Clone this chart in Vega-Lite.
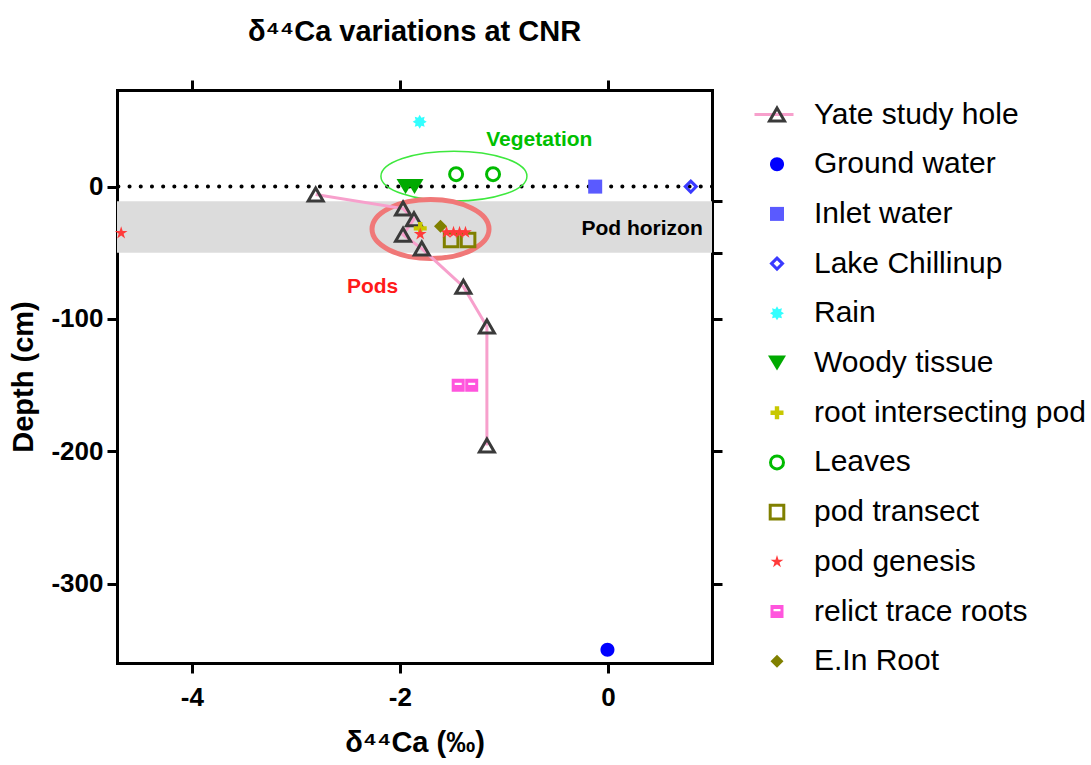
{
  "$schema": "https://vega.github.io/schema/vega-lite/v6.json",
  "width": 595,
  "height": 573,
  "autosize": "none",
  "padding": {"left": 117, "top": 90, "right": 379, "bottom": 102},
  "background": "white",
  "config": {
    "view": {"stroke": null},
    "font": "Liberation Sans",
    "axis": {
      "domainColor": "black", "domainWidth": 3, "domainCap": "square",
      "tickColor": "black", "tickWidth": 3, "tickSize": 10, "grid": false,
      "labelColor": "black", "labelFont": "Liberation Sans", "labelFontSize": 26, "labelFontWeight": "bold",
      "titleColor": "black", "titleFont": "Liberation Sans", "titleFontSize": 29, "titleFontWeight": "bold",
      "zindex": 1
    }
  },
  "title": {"text": "δ⁴⁴Ca variations at CNR", "fontSize": 29, "fontWeight": "bold", "font": "Liberation Sans", "color": "black", "anchor": "middle", "offset": 32},
  "datasets": {
    "samples": [
      {"series": "Yate study hole", "d44": -2.81, "depth": -6},
      {"series": "Yate study hole", "d44": -1.97, "depth": -16.6},
      {"series": "Yate study hole", "d44": -1.865, "depth": -24.7},
      {"series": "Yate study hole", "d44": -1.97, "depth": -36.3},
      {"series": "Yate study hole", "d44": -1.79, "depth": -46.8},
      {"series": "Yate study hole", "d44": -1.39, "depth": -75.6},
      {"series": "Yate study hole", "d44": -1.164, "depth": -105.8},
      {"series": "Yate study hole", "d44": -1.164, "depth": -195.7},
      {"series": "Ground water", "d44": -0.005, "depth": -350},
      {"series": "Inlet water", "d44": -0.123, "depth": 0},
      {"series": "Lake Chillinup", "d44": 0.796, "depth": 0},
      {"series": "Rain", "d44": -1.81, "depth": 49},
      {"series": "Woody tissue", "d44": -1.946, "depth": 0},
      {"series": "Woody tissue", "d44": -1.86, "depth": 0},
      {"series": "root intersecting pod", "d44": -1.805, "depth": -31.6},
      {"series": "Leaves", "d44": -1.46, "depth": 9.4},
      {"series": "Leaves", "d44": -1.105, "depth": 9.4},
      {"series": "pod transect", "d44": -1.508, "depth": -40.4},
      {"series": "pod transect", "d44": -1.345, "depth": -40.4},
      {"series": "pod genesis", "d44": -4.68, "depth": -35.1},
      {"series": "pod genesis", "d44": -1.805, "depth": -35.9},
      {"series": "pod genesis", "d44": -1.552, "depth": -34.6},
      {"series": "pod genesis", "d44": -1.485, "depth": -34.6},
      {"series": "pod genesis", "d44": -1.427, "depth": -34.6},
      {"series": "pod genesis", "d44": -1.37, "depth": -34.6},
      {"series": "relict trace roots", "d44": -1.44, "depth": -150.2},
      {"series": "relict trace roots", "d44": -1.31, "depth": -150.2},
      {"series": "E.In Root", "d44": -1.61, "depth": -30}
    ],
    "horizon": [{"top": -11, "bottom": -50}],
    "surface": [{"depth": 0}]
  },
  "layer": [
    {
      "data": {"name": "horizon"},
      "mark": {"type": "rect", "color": "#dcdcdc"},
      "encoding": {
        "y": {"field": "top", "type": "quantitative", "scale": {"domain": [-360, 73], "nice": false, "zero": false}, "axis": null},
        "y2": {"field": "bottom"}
      }
    },
    {
      "data": {"name": "surface"},
      "mark": {"type": "rule", "color": "black", "strokeWidth": 4, "strokeDash": [0.1, 11.1], "strokeCap": "round"},
      "encoding": {
        "y": {"field": "depth", "type": "quantitative", "axis": null}
      }
    },
    {
      "data": {"values": [{"d44": -1.481, "depth": 7.9}]},
      "mark": {"type": "point", "filled": false, "opacity": 1, "stroke": "#3ee83e", "strokeWidth": 1.5, "size": 21316, "shape": "M-1,0A1,0.342,0,1,1,1,0A1,0.342,0,1,1,-1,0Z"},
      "encoding": {
        "x": {"field": "d44", "type": "quantitative", "axis": null},
        "y": {"field": "depth", "type": "quantitative", "axis": null}
      }
    },
    {
      "data": {"values": [{"d44": -1.706, "depth": -32.1}]},
      "mark": {"type": "point", "filled": false, "opacity": 1, "stroke": "#f07878", "strokeWidth": 5, "size": 13689, "shape": "M-1,0A1,0.504,0,1,1,1,0A1,0.504,0,1,1,-1,0Z"},
      "encoding": {
        "x": {"field": "d44", "type": "quantitative", "axis": null},
        "y": {"field": "depth", "type": "quantitative", "axis": null}
      }
    },
    {
      "data": {"name": "samples"},
      "transform": [{"filter": "datum.series === 'Yate study hole'"}],
      "mark": {"type": "line", "strokeWidth": 3},
      "encoding": {
        "x": {"field": "d44", "type": "quantitative", "scale": {"domain": [-4.72, 1.0], "nice": false, "zero": false},
              "axis": {"orient": "top", "values": [-4, -2, 0], "labels": false, "title": null}},
        "y": {"field": "depth", "type": "quantitative",
              "axis": {"orient": "right", "values": [-11, -50, -100, -200, -300], "labels": false, "title": null}},
        "order": {"field": "depth", "sort": "descending"},
        "color": {"field": "series", "type": "nominal", "scale": {"range": ["#f7a0cc"]},
                  "legend": {"title": null, "orient": "none", "legendX": 636, "legendY": 3.5, "symbolType": "stroke", "symbolSize": 1521, "symbolStrokeWidth": 3, "labelExpr": "''", "labelFontSize": 30, "padding": 0}}
      }
    },
    {
      "data": {"name": "samples"},
      "mark": {"type": "point", "opacity": 1, "strokeWidth": 3, "size": 400},
      "encoding": {
        "x": {"field": "d44", "type": "quantitative",
              "axis": {"orient": "bottom", "values": [-4, -2, 0], "labelExpr": "'' + datum.value", "title": "δ⁴⁴Ca (‰)", "labelPadding": 11, "titlePadding": 18}},
        "y": {"field": "depth", "type": "quantitative",
              "axis": {"orient": "left", "values": [0, -100, -200, -300], "labelExpr": "'' + datum.value", "title": "Depth (cm)", "labelPadding": 4, "titlePadding": 12}},
        "shape": {"field": "series", "type": "nominal",
          "scale": {
            "domain": ["Yate study hole", "Ground water", "Inlet water", "Lake Chillinup", "Rain", "Woody tissue", "root intersecting pod", "Leaves", "pod transect", "pod genesis", "relict trace roots", "E.In Root"],
            "range": [
              "M0,-0.65L0.75,0.65L-0.75,0.65Z",
              "M-0.7,0A0.7,0.7,0,1,1,0.7,0A0.7,0.7,0,1,1,-0.7,0Z",
              "M-0.7,-0.7H0.7V0.7H-0.7Z",
              "M0,-0.55L0.55,0L0,0.55L-0.55,0Z",
              "M0,-0.7L0.17,-0.41L0.495,-0.495L0.41,-0.17L0.7,0L0.41,0.17L0.495,0.495L0.17,0.41L0,0.7L-0.17,0.41L-0.495,0.495L-0.41,0.17L-0.7,0L-0.41,-0.17L-0.495,-0.495L-0.17,-0.41Z",
              "M-0.9,-0.75H0.9L0,0.75Z",
              "M-0.22,-0.65H0.22V-0.22H0.65V0.22H0.22V0.65H-0.22V0.22H-0.65V-0.22H-0.22Z",
              "M-0.65,0A0.65,0.65,0,1,1,0.65,0A0.65,0.65,0,1,1,-0.65,0Z",
              "M-0.68,-0.68H0.68V0.68H-0.68Z",
              "M0,-0.67L0.15,-0.207L0.637,-0.207L0.243,0.079L0.394,0.542L0,0.256L-0.394,0.542L-0.243,0.079L-0.637,-0.207L-0.15,-0.207Z",
              "M-0.65,-0.65H0.65V0.65H-0.65ZM-0.35,-0.25V-0.03H0.35V-0.25Z",
              "M0,-0.65L0.65,0L0,0.65L-0.65,0Z"
            ]
          },
          "legend": {"title": null, "orient": "none", "legendX": 645, "legendY": 9.5, "symbolSize": 400, "symbolStrokeWidth": 3, "labelFontSize": 30, "labelFont": "Liberation Sans", "labelColor": "black", "labelOffset": 22, "rowPadding": 19.7, "padding": 0, "labelLimit": 500}
        },
        "fill": {"field": "series", "type": "nominal",
          "scale": {
            "domain": ["Yate study hole", "Ground water", "Inlet water", "Lake Chillinup", "Rain", "Woody tissue", "root intersecting pod", "Leaves", "pod transect", "pod genesis", "relict trace roots", "E.In Root"],
            "range": ["transparent", "#0000ff", "#5a5aff", "transparent", "#33ffff", "#00aa00", "#c8c800", "transparent", "transparent", "#ff3b3b", "#ff55dd", "#808000"]
          },
          "legend": {"title": null, "orient": "none", "legendX": 645, "legendY": 9.5, "symbolSize": 400, "symbolStrokeWidth": 3, "labelFontSize": 30, "labelFont": "Liberation Sans", "labelColor": "black", "labelOffset": 22, "rowPadding": 19.7, "padding": 0, "labelLimit": 500}
        },
        "stroke": {"field": "series", "type": "nominal",
          "scale": {
            "domain": ["Yate study hole", "Ground water", "Inlet water", "Lake Chillinup", "Rain", "Woody tissue", "root intersecting pod", "Leaves", "pod transect", "pod genesis", "relict trace roots", "E.In Root"],
            "range": ["#3a3a3a", "transparent", "transparent", "#3a3aff", "transparent", "transparent", "transparent", "#00bb00", "#808000", "transparent", "transparent", "transparent"]
          },
          "legend": {"title": null, "orient": "none", "legendX": 645, "legendY": 9.5, "symbolSize": 400, "symbolStrokeWidth": 3, "labelFontSize": 30, "labelFont": "Liberation Sans", "labelColor": "black", "labelOffset": 22, "rowPadding": 19.7, "padding": 0, "labelLimit": 500}
        }
      }
    },
    {
      "data": {"values": [
        {"label": "Vegetation", "d44": -0.66, "depth": 35.1, "kind": "veg"},
        {"label": "Pods", "d44": -2.263, "depth": -75.9, "kind": "pods"},
        {"label": "Pod horizon", "d44": 0.328, "depth": -32.1, "kind": "horizon"}
      ]},
      "mark": {"type": "text", "fontWeight": "bold", "font": "Liberation Sans", "align": "center", "baseline": "middle", "fontSize": 21},
      "encoding": {
        "x": {"field": "d44", "type": "quantitative", "axis": null},
        "y": {"field": "depth", "type": "quantitative", "axis": null},
        "text": {"field": "label"},
        "fill": {"condition": [{"test": "datum.kind === 'veg'", "value": "#00c000"}, {"test": "datum.kind === 'pods'", "value": "#ff1a1a"}], "value": "black"}
      }
    }
  ],
  "resolve": {"axis": {"x": "independent", "y": "independent"}}
}
